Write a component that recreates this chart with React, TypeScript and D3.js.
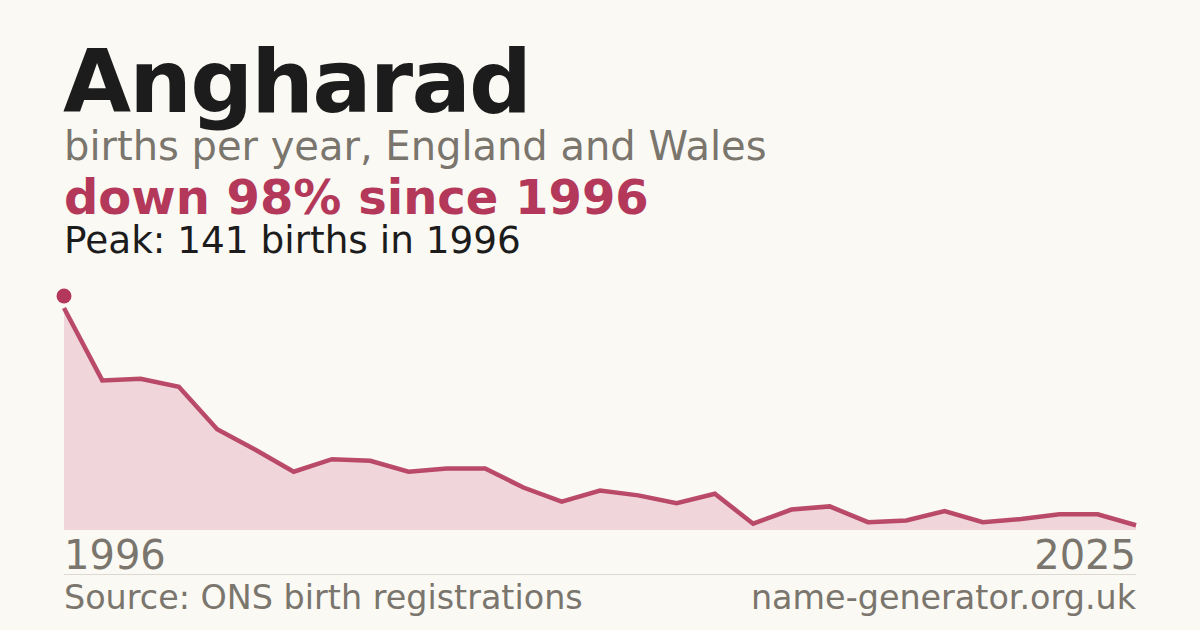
import React from "react";
import * as d3 from "d3";

const years: number[] = [
  1996, 1997, 1998, 1999, 2000, 2001, 2002, 2003, 2004, 2005, 2006, 2007, 2008, 2009, 2010,
  2011, 2012, 2013, 2014, 2015, 2016, 2017, 2018, 2019, 2021, 2022, 2023, 2024, 2025,
];
const births: number[] = [
  141, 95, 96, 91, 64, 51, 37, 45, 44, 37, 39, 39, 27, 18, 25,
  22, 17, 23, 4, 13, 15, 5, 6, 12, 5, 7, 10, 10, 3,
];
const nameTitle = "Angharad";
const subtitle = "births per year, England and Wales";
const sourceText = "Source: ONS birth registrations";
const siteText = "name-generator.org.uk";

const W = 1200;
const H = 630;
const FONT = "'DejaVu Sans', sans-serif";
const RED = "#b3385a";
const GREY = "#7a756d";

export default function App() {
  const x = d3.scalePoint<number>().domain(years).range([64, 1136]);
  const maxV = d3.max(births) as number;
  const peakIdx = births.indexOf(maxV);
  const y = d3.scaleLinear().domain([0, maxV]).range([530, 308]);
  const pts = births.map((v, i) => [x(years[i]) as number, y(v)] as [number, number]);
  const line = d3.line<[number, number]>().x((d) => d[0]).y((d) => d[1]);
  const area = d3
    .area<[number, number]>()
    .x((d) => d[0])
    .y0(y(0))
    .y1((d) => d[1]);
  const first = births[0];
  const last = births[births.length - 1];
  const pct = Math.round(((first - last) / first) * 100);

  return (
    <svg
      width={W}
      height={H}
      viewBox={`0 0 ${W} ${H}`}
      style={{ position: "absolute", left: 0, top: 0, display: "block" }}
      fontFamily={FONT}
    >
      <rect x={0} y={0} width={W} height={H} fill="#faf9f4" />
      <text x={63} y={112} fontSize={88} fontWeight={700} fill="#1c1c1c" letterSpacing={-1.8}>
        {nameTitle}
      </text>
      <text x={64} y={160} fontSize={40} fill={GREY}>
        {subtitle}
      </text>
      <text x={64} y={214} fontSize={48} fontWeight={700} fill={RED}>
        {`down ${pct}% since ${years[0]}`}
      </text>
      <text x={64} y={253} fontSize={37.4} fill="#1c1c1c">
        {`Peak: ${maxV} births in ${years[peakIdx]}`}
      </text>

      <path d={area(pts) as string} fill="#f0d5da" />
      <path
        d={line(pts) as string}
        fill="none"
        stroke={RED}
        strokeWidth={4.5}
        strokeOpacity={0.9}
        strokeLinejoin="miter"
      />
      <circle cx={x(years[peakIdx]) as number} cy={y(maxV) - 12} r={7.5} fill={RED} />

      <text x={64} y={569} fontSize={40} fill={GREY}>
        {String(years[0])}
      </text>
      <text x={1136} y={569} fontSize={40} fill={GREY} textAnchor="end">
        {String(years[years.length - 1])}
      </text>
      <line x1={64} x2={1136} y1={574.5} y2={574.5} stroke="#dcd9d2" strokeWidth={1} />
      <text x={64} y={609} fontSize={33.4} fill={GREY}>
        {sourceText}
      </text>
      <text x={1136} y={609} fontSize={33.4} fill={GREY} textAnchor="end">
        {siteText}
      </text>
    </svg>
  );
}
